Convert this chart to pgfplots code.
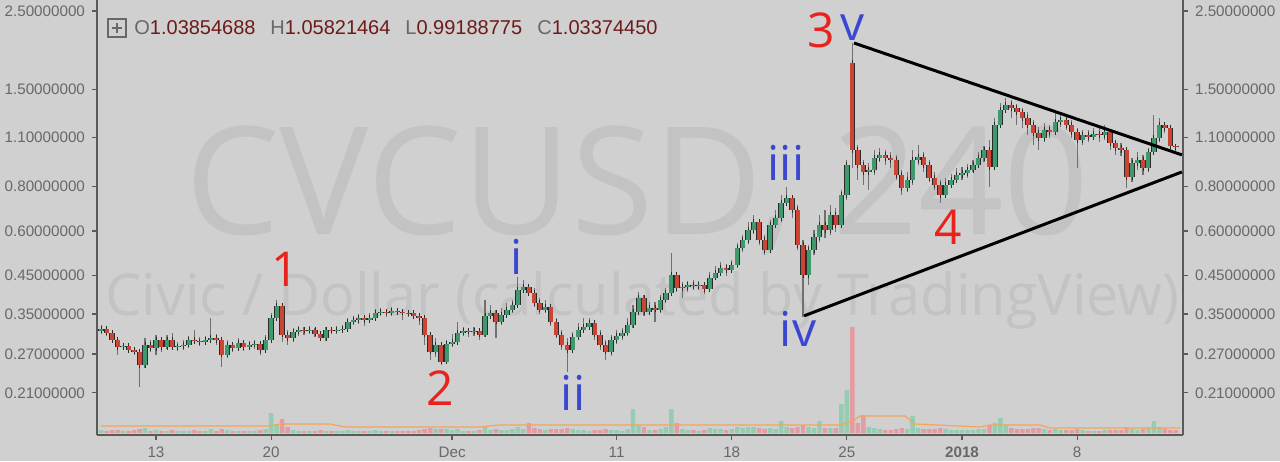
\documentclass[border=0pt]{standalone}
\usepackage{pgfplots}
\pgfplotsset{compat=1.18}
\usepackage{pgfplotstable}
\usepackage{graphicx}
\usepackage{fontspec}
\setmainfont{Liberation Sans}
\newfontfamily\wmfont{Open Sans}

\definecolor{bg}{HTML}{D0D0D0}
\definecolor{wm}{HTML}{C3C3C3}
\definecolor{upc}{HTML}{3E9A6C}
\definecolor{dnc}{HTML}{CC4433}
\definecolor{outl}{HTML}{2B2B2B}
\definecolor{wick}{HTML}{707070}
\definecolor{volup}{HTML}{94CDB0}
\definecolor{voldn}{HTML}{E59BA2}
\definecolor{ma}{HTML}{F2A65A}
\definecolor{axc}{HTML}{5A5A5A}
\definecolor{tickc}{HTML}{686868}
\definecolor{annred}{HTML}{E8231E}
\definecolor{annblue}{HTML}{3B47D1}
\definecolor{ohlcv}{HTML}{6E1A1A}

\pgfplotstableread{
k o h l c v
0 0.314 0.326 0.308 0.318 3
1 0.318 0.322 0.304 0.310 2
2 0.310 0.314 0.291 0.296 3
3 0.296 0.300 0.269 0.283 3
4 0.283 0.291 0.277 0.285 2
5 0.285 0.289 0.272 0.277 2
6 0.277 0.281 0.269 0.274 3
7 0.274 0.277 0.218 0.251 4
8 0.251 0.300 0.247 0.287 5
9 0.287 0.296 0.274 0.281 2
10 0.281 0.306 0.269 0.296 3
11 0.296 0.302 0.274 0.283 2
12 0.283 0.306 0.279 0.296 2
13 0.296 0.310 0.277 0.283 3
14 0.283 0.292 0.276 0.284 2
15 0.284 0.296 0.277 0.287 2
16 0.287 0.304 0.281 0.296 2
17 0.296 0.316 0.289 0.293 3
18 0.293 0.302 0.285 0.292 2
19 0.292 0.304 0.287 0.296 2
20 0.296 0.341 0.291 0.300 4
21 0.300 0.308 0.287 0.296 2
22 0.296 0.300 0.249 0.269 4
23 0.269 0.296 0.264 0.287 3
24 0.287 0.292 0.274 0.281 2
25 0.281 0.300 0.277 0.291 2
26 0.291 0.296 0.276 0.283 2
27 0.283 0.294 0.279 0.287 2
28 0.287 0.296 0.279 0.288 2
29 0.288 0.292 0.269 0.277 3
30 0.277 0.306 0.274 0.296 4
31 0.296 0.353 0.292 0.341 20
32 0.341 0.384 0.337 0.369 8
33 0.369 0.376 0.292 0.306 14
34 0.306 0.316 0.287 0.300 6
35 0.300 0.320 0.292 0.312 3
36 0.312 0.324 0.304 0.316 2
37 0.316 0.322 0.306 0.314 2
38 0.314 0.324 0.308 0.316 2
39 0.316 0.320 0.302 0.308 2
40 0.308 0.314 0.294 0.300 3
41 0.300 0.322 0.294 0.316 2
42 0.316 0.322 0.308 0.314 2
43 0.314 0.324 0.308 0.316 2
44 0.316 0.326 0.310 0.318 2
45 0.318 0.341 0.314 0.333 3
46 0.333 0.346 0.326 0.337 2
47 0.337 0.350 0.328 0.341 2
48 0.341 0.348 0.324 0.337 2
49 0.337 0.353 0.330 0.341 2
50 0.341 0.362 0.337 0.353 3
51 0.353 0.365 0.346 0.355 2
52 0.355 0.362 0.344 0.353 2
53 0.353 0.367 0.346 0.357 2
54 0.357 0.365 0.348 0.355 2
55 0.355 0.362 0.337 0.353 2
56 0.353 0.360 0.344 0.352 2
57 0.352 0.357 0.339 0.346 2
58 0.346 0.353 0.326 0.341 3
59 0.341 0.346 0.287 0.306 4
60 0.306 0.310 0.260 0.274 5
61 0.274 0.300 0.265 0.287 4
62 0.287 0.291 0.252 0.257 4
63 0.257 0.296 0.254 0.289 4
64 0.289 0.308 0.283 0.292 3
65 0.292 0.333 0.287 0.310 4
66 0.310 0.322 0.304 0.314 2
67 0.314 0.320 0.302 0.312 2
68 0.312 0.322 0.304 0.314 2
69 0.314 0.318 0.296 0.306 3
70 0.306 0.384 0.302 0.346 6
71 0.346 0.371 0.339 0.353 3
72 0.353 0.360 0.300 0.333 4
73 0.333 0.365 0.326 0.348 3
74 0.348 0.376 0.341 0.360 3
75 0.360 0.384 0.353 0.371 4
76 0.371 0.445 0.367 0.409 6
77 0.409 0.437 0.401 0.418 4
78 0.418 0.426 0.394 0.401 10
79 0.401 0.415 0.367 0.376 5
80 0.376 0.389 0.350 0.360 4
81 0.360 0.384 0.353 0.367 3
82 0.367 0.374 0.324 0.333 4
83 0.333 0.341 0.300 0.306 4
84 0.306 0.316 0.277 0.287 4
85 0.287 0.300 0.241 0.277 5
86 0.277 0.312 0.272 0.302 4
87 0.302 0.330 0.296 0.316 3
88 0.316 0.341 0.310 0.322 3
89 0.322 0.341 0.316 0.330 2
90 0.330 0.337 0.296 0.306 3
91 0.306 0.316 0.277 0.287 3
92 0.287 0.296 0.260 0.274 4
93 0.274 0.306 0.267 0.296 3
94 0.296 0.316 0.289 0.304 3
95 0.304 0.320 0.296 0.310 2
96 0.310 0.341 0.304 0.326 4
97 0.326 0.371 0.320 0.355 24
98 0.355 0.404 0.348 0.389 8
99 0.389 0.396 0.346 0.355 6
100 0.355 0.379 0.348 0.365 3
101 0.365 0.379 0.333 0.360 3
102 0.360 0.396 0.353 0.384 4
103 0.384 0.415 0.376 0.401 6
104 0.401 0.521 0.394 0.451 24
105 0.451 0.460 0.404 0.415 10
106 0.415 0.431 0.389 0.417 4
107 0.417 0.434 0.404 0.423 3
108 0.423 0.437 0.409 0.420 3
109 0.420 0.434 0.409 0.423 2
110 0.423 0.429 0.399 0.412 3
111 0.412 0.460 0.407 0.443 5
112 0.443 0.479 0.437 0.457 4
113 0.457 0.491 0.448 0.472 4
114 0.472 0.485 0.448 0.466 3
115 0.466 0.497 0.460 0.482 4
116 0.482 0.555 0.472 0.538 6
117 0.538 0.585 0.524 0.566 5
118 0.566 0.636 0.552 0.604 6
119 0.604 0.666 0.589 0.636 6
120 0.636 0.645 0.548 0.566 5
121 0.566 0.585 0.514 0.531 4
122 0.531 0.645 0.521 0.624 5
123 0.624 0.688 0.612 0.653 4
124 0.653 0.758 0.636 0.720 12
125 0.720 0.799 0.706 0.744 6
126 0.744 0.758 0.653 0.688 5
127 0.688 0.711 0.531 0.548 6
128 0.548 0.566 0.344 0.451 8
129 0.451 0.548 0.423 0.531 6
130 0.531 0.604 0.514 0.577 5
131 0.577 0.666 0.559 0.624 12
132 0.624 0.688 0.574 0.604 5
133 0.604 0.711 0.585 0.666 5
134 0.666 0.697 0.596 0.624 5
135 0.624 0.783 0.612 0.758 29
136 0.758 0.951 0.734 0.921 43
137 1.785 2.031 0.903 1.015 106
138 1.015 1.048 0.836 0.921 10
139 0.921 0.951 0.809 0.880 18
140 0.880 0.933 0.783 0.892 6
141 0.892 1.015 0.863 0.964 5
142 0.964 1.028 0.939 0.983 4
143 0.983 1.015 0.921 0.964 3
144 0.964 1.002 0.903 0.951 3
145 0.951 0.983 0.836 0.863 4
146 0.863 0.892 0.758 0.794 5
147 0.794 0.880 0.773 0.836 4
148 0.836 1.015 0.809 0.951 17
149 0.951 1.048 0.921 0.970 5
150 0.970 1.002 0.880 0.921 4
151 0.921 0.951 0.825 0.847 4
152 0.847 0.880 0.783 0.809 4
153 0.809 0.836 0.720 0.758 5
154 0.758 0.847 0.744 0.809 4
155 0.809 0.869 0.794 0.836 3
156 0.836 0.903 0.820 0.863 3
157 0.863 0.909 0.836 0.875 3
158 0.875 0.927 0.847 0.892 3
159 0.892 0.951 0.880 0.921 3
160 0.921 1.002 0.903 0.964 4
161 0.964 1.041 0.939 1.015 4
162 1.015 1.083 0.799 0.909 8
163 0.909 1.250 0.892 1.194 10
164 1.194 1.377 1.171 1.316 15
165 1.316 1.422 1.291 1.359 8
166 1.359 1.404 1.250 1.333 5
167 1.333 1.368 1.194 1.299 4
168 1.299 1.333 1.171 1.250 4
169 1.250 1.299 1.119 1.194 4
170 1.194 1.233 1.048 1.134 5
171 1.134 1.178 1.015 1.097 5
172 1.097 1.209 1.069 1.156 4
173 1.156 1.194 1.097 1.141 3
174 1.141 1.316 1.119 1.217 4
175 1.217 1.282 1.178 1.233 3
176 1.233 1.266 1.156 1.194 3
177 1.194 1.233 1.097 1.141 3
178 1.141 1.171 0.903 1.083 4
179 1.083 1.156 1.048 1.119 3
180 1.119 1.156 1.069 1.105 2
181 1.105 1.171 1.083 1.126 2
182 1.126 1.171 1.069 1.119 2
183 1.119 1.194 1.083 1.141 3
184 1.141 1.156 1.015 1.062 3
185 1.062 1.083 0.983 1.028 3
186 1.028 1.062 0.976 1.015 3
187 1.015 1.028 0.794 0.852 6
188 0.852 0.964 0.825 0.933 4
189 0.933 1.002 0.892 0.951 3
190 0.951 0.983 0.863 0.903 4
191 0.903 1.028 0.880 1.002 5
192 1.002 1.274 0.983 1.097 12
193 1.097 1.250 1.069 1.194 6
194 1.194 1.217 1.134 1.171 4
195 1.171 1.194 1.028 1.039 3
196 1.039 1.058 0.992 1.034 3
}\candles

\pgfplotsset{
  cvframe/.style={at={(48.5pt,13pt)}, anchor=south west, scale only axis,
    width=543pt, height=217.5pt, xmin=-0.76, xmax=197.3},
  cvticks/.style={
    ytick={0.21,0.27,0.35,0.45,0.6,0.8,1.1,1.5,2.5},
    yticklabels={0.21000000,0.27000000,0.35000000,0.45000000,0.60000000,0.80000000,1.10000000,1.50000000,2.50000000},
    tick align=outside, major tick length=2.5pt,
    tick style={axc, line width=0.6pt},
    axis line style={axc, line width=0.8pt},
    ticklabel style={font=\fontsize{7.6}{9}\selectfont, text=tickc}},
  isup/.style={restrict expr to domain={\thisrow{c}-\thisrow{o}}{0:1000}},
  isdn/.style={restrict expr to domain={\thisrow{c}-\thisrow{o}}{-1000:-0.0000001}},
  candle/.style={draw=none, fill=none, mark=none, forget plot},
}

\begin{document}
\begin{tikzpicture}[x=0.5pt,y=0.5pt]
\fill[bg] (0,0) rectangle (1280,461);
% watermarks
\node[anchor=base west, inner sep=0, text=wm] at (185,227) {\resizebox{452pt}{!}{\wmfont CVCUSD, 240}};
\node[anchor=base west, inner sep=0, text=wm] at (105,145) {\resizebox{537pt}{!}{\wmfont Civic / Dollar (calculated by TradingView)}};

% volume
\begin{axis}[cvframe, ymin=-2, ymax=433, hide axis]
\addplot[isup, ybar, bar width=2.2pt, fill=volup, draw=none] table[x=k, y=v]{\candles};
\addplot[isdn, ybar, bar width=2.2pt, fill=voldn, draw=none] table[x=k, y=v]{\candles};
\addplot[ma, line width=0.6pt] coordinates {(0,7) (30.8,7) (32.6,9) (41.7,9) (44.5,6) (69.1,6) (72.7,8) (134.8,8) (137.1,12) (138.4,17) (146.6,17) (148.4,9) (160.3,6) (162.1,8) (171.2,8) (173,5) (196.8,5)};
\end{axis}

% right price labels
\begin{axis}[cvframe, ymode=log, ymin=0.1597, ymax=2.685, cvticks,
  axis x line=none, axis y line*=right]
\addplot[draw=none, mark=none] coordinates {(10,1) (20,1)};
\end{axis}

% main price axis
\begin{axis}[cvframe, ymode=log, ymin=0.1597, ymax=2.685, cvticks,
  axis x line*=bottom, axis y line*=left,
  xtick={10,31,64,94,115,136,157,178},
  xticklabels={13,20,Dec,11,18,25,\textbf{2018},8}]
% wicks
\addplot[candle, error bars/.cd, y dir=plus, y explicit, error mark=none,
  error bar style={draw=wick, line width=0.55pt}]
  table[x=k, y=l, y error expr={\thisrow{h}-\thisrow{l}}]{\candles};
% body outline
\addplot[candle, error bars/.cd, y dir=both, y explicit,
  error mark options={draw=outl, line width=0.45pt, mark size=1.35pt},
  error bar style={draw=outl, line width=2.7pt}]
  table[x=k, y expr={min(\thisrow{o},\thisrow{c})}, y error plus expr={abs(\thisrow{c}-\thisrow{o})}, y error minus expr=0]{\candles};
% up bodies
\addplot[candle, isup, error bars/.cd, y dir=plus, y explicit, error mark=none,
  error bar style={draw=upc, line width=2.0pt}]
  table[x=k, y=o, y error expr={\thisrow{c}-\thisrow{o}}]{\candles};
% down bodies
\addplot[candle, isdn, error bars/.cd, y dir=plus, y explicit, error mark=none,
  error bar style={draw=dnc, line width=2.0pt}]
  table[x=k, y=c, y error expr={\thisrow{o}-\thisrow{c}}]{\candles};
% triangle
\addplot[black, line width=1.5pt] coordinates {(137.3,2.031) (197.1,0.983)};
\addplot[black, line width=1.5pt] coordinates {(128.2,0.346) (197.1,0.880)};
\end{axis}

% wave annotations
\begin{scope}[every node/.style={inner sep=0, font=\wmfont\fontsize{24}{28}\selectfont}]
\node[text=annred] at (285,192) {1};
\node[text=annred] at (440,73) {2};
\node[text=annred] at (821,431) {3};
\node[text=annred] at (948,234) {4};
\node[text=annblue] at (517,204) {i};
\node[text=annblue] at (573,68) {ii};
\node[text=annblue] at (786,298) {iii};
\node[text=annblue] at (798,132) {iv};
\node[text=annblue] at (853,433) {v};
\end{scope}

% OHLC header
\draw[tickc, line width=0.6pt] (108,424) rectangle (126,442);
\draw[tickc, line width=0.6pt] (112,433) -- (122,433) (117,428) -- (117,438);
\begin{scope}[every node/.style={anchor=base west, inner sep=0, font=\fontsize{10}{12}\selectfont}]
\node at (134,426) {\textcolor{tickc}{O}\textcolor{ohlcv}{1.03854688}};
\node at (270,426) {\textcolor{tickc}{H}\textcolor{ohlcv}{1.05821464}};
\node at (405,426) {\textcolor{tickc}{L}\textcolor{ohlcv}{0.99188775}};
\node at (537,426) {\textcolor{tickc}{C}\textcolor{ohlcv}{1.03374450}};
\end{scope}

\pgfresetboundingbox
\path[use as bounding box] (0,0) rectangle (1280,461);
\end{tikzpicture}
\end{document}
